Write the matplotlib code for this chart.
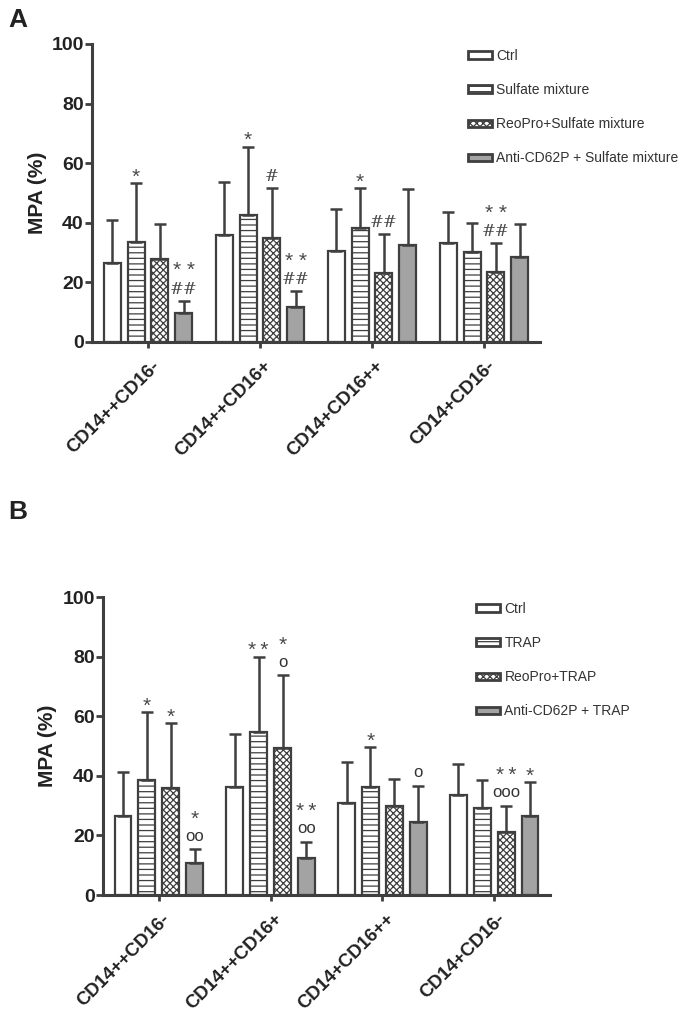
import matplotlib
matplotlib.use("Agg")
import matplotlib.pyplot as plt
import numpy as np
from matplotlib.patches import Patch
from matplotlib.transforms import ScaledTranslation

plt.rcParams['font.family'] = ['Liberation Sans', 'DejaVu Sans']
plt.rcParams['hatch.linewidth'] = 0.9

groups = ["CD14++CD16-", "CD14++CD16+", "CD14+CD16++", "CD14+CD16-"]

series_a = ["Ctrl", "Sulfate mixture", "ReoPro+Sulfate mixture", "Anti-CD62P + Sulfate mixture"]
mean_a = {
    "Ctrl": [26.5, 36.0, 30.6, 33.3],
    "Sulfate mixture": [33.6, 42.6, 38.2, 30.3],
    "ReoPro+Sulfate mixture": [27.8, 35.0, 23.3, 23.4],
    "Anti-CD62P + Sulfate mixture": [9.7, 11.9, 32.6, 28.6],
}
err_a = {
    "Ctrl": [41.0, 53.8, 44.7, 43.7],
    "Sulfate mixture": [53.4, 65.5, 51.7, 40.0],
    "ReoPro+Sulfate mixture": [39.6, 51.7, 36.2, 33.1],
    "Anti-CD62P + Sulfate mixture": [13.8, 17.0, 51.4, 39.5],
}
# (group index, series index, lower mark, upper mark)
notes_a = [
    (0, 1, "*", None), (0, 3, "##", "**"),
    (1, 1, "*", None), (1, 2, "#", None), (1, 3, "##", "**"),
    (2, 1, "*", None), (2, 2, "##", None),
    (3, 2, "##", "**"),
]

series_b = ["Ctrl", "TRAP", "ReoPro+TRAP", "Anti-CD62P + TRAP"]
mean_b = {
    "Ctrl": [26.5, 36.2, 30.9, 33.6],
    "TRAP": [38.6, 54.7, 36.2, 29.2],
    "ReoPro+TRAP": [35.9, 49.3, 29.9, 21.1],
    "Anti-CD62P + TRAP": [10.7, 12.4, 24.5, 26.5],
}
err_b = {
    "Ctrl": [41.2, 54.0, 44.6, 44.0],
    "TRAP": [61.4, 79.9, 49.7, 38.6],
    "ReoPro+TRAP": [57.7, 73.8, 38.9, 29.9],
    "Anti-CD62P + TRAP": [15.4, 17.8, 36.6, 37.9],
}
notes_b = [
    (0, 1, "*", None), (0, 2, "*", None), (0, 3, "oo", "*"),
    (1, 1, "**", None), (1, 2, "o", "*"), (1, 3, "oo", "**"),
    (2, 1, "*", None), (2, 3, "o", None),
    (3, 2, "ooo", "**"), (3, 3, "*", None),
]

DARK = "#3f3f3f"
MARK = "#4a4a4a"
styles = [
    dict(facecolor="white", hatch=None),
    dict(facecolor="white", hatch="---"),
    dict(facecolor="white", hatch="xxxxx"),
    dict(facecolor="#a3a3a3", hatch=None),
]

fig = plt.figure(figsize=(6.85, 10.15), dpi=100)
W, H = 685, 1015
PT = 0.72  # points per pixel at dpi 100


def draw_mark(ax, xs, top, txt, px_above, star_sep):
    if "#" in txt:
        ax.annotate(txt, (xs, top), xytext=(0, (px_above - 6) * PT), textcoords="offset points",
                    ha="center", va="baseline", fontsize=12, color=MARK,
                    family=['DejaVu Serif'], annotation_clip=False)
    elif "o" in txt:
        ax.annotate(txt, (xs, top), xytext=(0, (px_above - 4.5) * PT), textcoords="offset points",
                    ha="center", va="baseline", fontsize=12, color="#333333",
                    annotation_clip=False)
    else:
        s = star_sep.join(txt)
        ax.annotate(s, (xs, top), xytext=(0, (px_above - 12.5) * PT), textcoords="offset points",
                    ha="center", va="baseline", fontsize=15, color=MARK,
                    family=['Liberation Sans', 'DejaVu Sans'], annotation_clip=False)


def panel(rect, series, means, errs, notes, leg_top, star_sep, ylabelpad):
    ax = fig.add_axes(rect)
    x = np.arange(len(groups))
    pitch = 0.214
    width = 0.152
    offsets = (np.arange(4) - 1.5) * pitch
    for i, s in enumerate(series):
        st = styles[i]
        xs = x + offsets[i]
        m = np.array(means[s])
        up = np.array(errs[s]) - m
        ax.bar(xs, m, width, facecolor=st["facecolor"], edgecolor=DARK,
               hatch=st["hatch"], linewidth=1.6, zorder=2, label=s)
        ax.errorbar(xs, m, yerr=[np.zeros_like(up), up], fmt="none",
                    ecolor=DARK, elinewidth=1.8, capsize=4, capthick=1.8, zorder=3)
    for g, si, low, high in notes:
        xs = g + offsets[si]
        top = errs[series[si]][g]
        draw_mark(ax, xs, top, low, 13, star_sep)
        if high:
            draw_mark(ax, xs, top, high, 37, star_sep)
    ax.set_xlim(-0.5, 3.5)
    ax.set_ylim(0, 100)
    ax.set_yticks([0, 20, 40, 60, 80, 100])
    ax.set_xticks(x)
    ax.set_xticklabels(groups, rotation=45, ha="right", rotation_mode="anchor",
                       fontsize=13.5, fontweight="bold", color="#222222")
    for lab in ax.get_yticklabels():
        lab.set_fontweight("bold")
        lab.set_fontsize(14)
        lab.set_color("#222222")
    ax.tick_params(axis="y", length=5, width=2, color=DARK, pad=1)
    ax.tick_params(axis="x", length=4, width=2, color=DARK, pad=7)
    for lab in ax.get_xticklabels():
        lab.set_transform(lab.get_transform() + ScaledTranslation(3 / 100, 0, fig.dpi_scale_trans))
    for sp in ["top", "right"]:
        ax.spines[sp].set_visible(False)
    for sp in ["left", "bottom"]:
        ax.spines[sp].set_linewidth(2.2)
        ax.spines[sp].set_color(DARK)
    ax.set_ylabel("MPA (%)", fontsize=15, fontweight="bold", color="#222222", labelpad=ylabelpad)
    handles = [Patch(facecolor=styles[i]["facecolor"], edgecolor=DARK,
                     hatch=styles[i]["hatch"], linewidth=2.0) for i in range(4)]
    fig.legend(handles, series, loc="upper left", bbox_to_anchor=leg_top,
               frameon=False, fontsize=10, handlelength=1.75, handleheight=0.45,
               handletextpad=0.3, labelspacing=1.45, borderaxespad=0,
               borderpad=0, labelcolor="#333333")
    return ax


axA = panel([92 / W, 1 - 342 / H, (540 - 92) / W, (342 - 44) / H],
            series_a, mean_a, err_a, notes_a, (468 / W, 1 - 49 / H), " ", 3)
axB = panel([103 / W, 1 - 895 / H, (550 - 103) / W, (895 - 597) / H],
            series_b, mean_b, err_b, notes_b, (476 / W, 1 - 602 / H), "\u2009", 4)

fig.text(8 / W, 1 - 20 / H, "A", fontsize=19, fontweight="bold", va="center", color="#222222")
fig.text(8 / W, 1 - 512 / H, "B", fontsize=19, fontweight="bold", va="center", color="#222222")

fig.savefig("out.png", dpi=100)
